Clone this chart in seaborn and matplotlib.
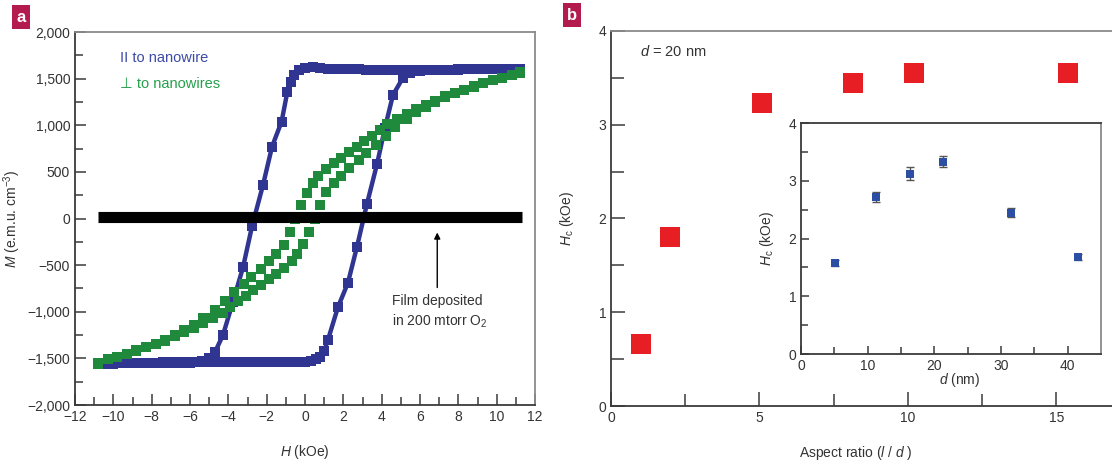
import numpy as np
import pandas as pd
import matplotlib
matplotlib.use("Agg")
import matplotlib.pyplot as plt
from matplotlib.ticker import FixedLocator, FixedFormatter
import seaborn as sns

# ---------------- data : panel a ----------------
# parallel to nanowire (blue), descending branch then ascending branch
blue_H_desc = [11.2, 10.8, 10.4, 10.0, 9.6, 9.2, 8.8, 8.4, 8.0, 7.6, 7.2, 6.8, 6.4, 6.0,
               5.6, 5.2, 4.8, 4.4, 4.0, 3.6, 3.2, 2.8, 2.4, 2.0, 1.6, 1.2, 0.8, 0.4, 0.0,
               -0.3, -0.55, -0.75, -0.92, -1.22, -1.72, -2.19, -2.76, -3.23, -3.76, -4.28,
               -4.69, -5.0, -5.4, -5.8, -6.2, -6.6, -7.0, -7.4, -7.8, -8.2, -8.6, -9.0,
               -9.4, -9.8, -10.2, -10.6, -10.8]
blue_M_desc = [1600, 1600, 1600, 1600, 1600, 1598, 1598, 1598, 1597, 1597, 1596, 1596, 1595, 1595,
               1595, 1594, 1594, 1594, 1595, 1596, 1597, 1598, 1598, 1598, 1600, 1605, 1615, 1622, 1615,
               1590, 1540, 1460, 1360, 1040, 770, 360, -80, -520, -895, -1250,
               -1430, -1500, -1525, -1535, -1538, -1540, -1542, -1544, -1545, -1547, -1548, -1550,
               -1551, -1552, -1553, -1554, -1555]
blue_H_asc = [-10.8, -10.4, -10.0, -9.6, -9.2, -8.8, -8.4, -8.0, -7.6, -7.2, -6.8, -6.4, -6.0,
              -5.6, -5.2, -4.8, -4.4, -4.0, -3.6, -3.2, -2.8, -2.4, -2.0, -1.6, -1.2, -0.8, -0.4,
              0.0, 0.3, 0.55, 0.78, 1.0, 1.2, 1.72, 2.24, 2.71, 3.23, 3.76, 4.17, 4.59, 5.1,
              5.5, 6.0, 6.5, 7.0, 7.5, 8.0, 8.5, 9.0, 9.5, 10.0, 10.5, 11.2]
blue_M_asc = [-1555, -1555, -1555, -1554, -1553, -1552, -1551, -1550, -1549, -1548, -1547, -1546, -1545,
              -1544, -1543, -1542, -1541, -1540, -1540, -1539, -1539, -1538, -1538, -1537, -1537, -1536, -1536,
              -1535, -1525, -1505, -1480, -1420, -1300, -950, -690, -305, 155, 585, 970, 1325, 1505,
              1560, 1580, 1590, 1595, 1597, 1598, 1599, 1600, 1600, 1600, 1600, 1600]

# perpendicular to nanowires (green), descending then ascending branch
green_H_desc = [11.2, 10.8, 10.3, 9.8, 9.3, 8.8, 8.3, 7.8, 7.3, 6.8, 6.3, 5.8, 5.3, 4.8, 4.3,
                3.9, 3.5, 3.1, 2.7, 2.3, 1.9, 1.5, 1.1, 0.7, 0.4, 0.1, -0.2, -0.5, -0.8, -1.1,
                -1.5, -1.9, -2.3, -2.8, -3.2, -3.7, -4.2, -4.7, -5.3, -5.8, -6.3, -6.8, -7.3,
                -7.8, -8.3, -8.8, -9.3, -9.8, -10.3, -10.8]
green_M_desc = [1570, 1540, 1510, 1480, 1450, 1420, 1380, 1350, 1310, 1260, 1220, 1170, 1120, 1070, 1010,
                950, 890, 830, 770, 710, 650, 590, 530, 460, 380, 270, 150, 0, -150, -280,
                -380, -460, -540, -630, -700, -790, -880, -980, -1070, -1140, -1200, -1250, -1300,
                -1345, -1380, -1415, -1450, -1480, -1510, -1550]
green_H_asc = [-10.8, -10.3, -9.8, -9.3, -8.8, -8.3, -7.8, -7.3, -6.8, -6.3, -5.8, -5.3, -4.8, -4.3,
               -3.9, -3.5, -3.1, -2.7, -2.3, -1.9, -1.5, -1.1, -0.7, -0.4, -0.1, 0.2, 0.5, 0.8, 1.1,
               1.5, 1.9, 2.3, 2.8, 3.2, 3.7, 4.2, 4.7, 5.3, 5.8, 6.3, 6.8, 7.3, 7.8, 8.3, 8.8,
               9.3, 9.8, 10.3, 10.8, 11.2]
green_M_asc = [-1555, -1510, -1480, -1450, -1420, -1380, -1350, -1310, -1260, -1220, -1170, -1120, -1070, -1010,
               -950, -890, -830, -770, -710, -650, -590, -530, -460, -380, -270, -150, 0, 150, 280,
               380, 460, 540, 630, 700, 790, 880, 980, 1070, 1140, 1200, 1250, 1300, 1345, 1380, 1415,
               1450, 1480, 1510, 1540, 1565]

# film deposited in 200 mtorr O2 (flat, ~zero magnetisation)
film_H = [-10.8, 11.3]
film_M = [20, 20]
arrow_H = 6.9
arrow_M_from = -740
arrow_M_to = -150

a_xticks = [-12, -10, -8, -6, -4, -2, 0, 2, 4, 6, 8, 10, 12]
a_xticklabels = ['−12', '−10', '−8', '−6', '−4', '−2', '0', '2', '4', '6', '8', '10', '12']
a_yticks = [-2000, -1500, -1000, -500, 0, 500, 1000, 1500, 2000]
a_yticklabels = ['−2,000', '−1,500', '−1,000', '−500', '0', '500', '1,000', '1,500', '2,000']

# ---------------- data : panel b ----------------
aspect_ratio = [1.0, 2.0, 5.1, 8.15, 10.2, 15.4]
hc_aspect = [0.66, 1.8, 3.23, 3.45, 3.55, 3.55]
b_xticks = [0, 5, 10, 15]
b_yticks = [0, 1, 2, 3, 4]

inset_d = [5.1, 11.3, 16.3, 21.3, 31.5, 41.6]
inset_hc = [1.58, 2.72, 3.12, 3.33, 2.45, 1.68]
inset_err = [0.05, 0.08, 0.11, 0.1, 0.07, 0.06]
inset_xticks = [0, 10, 20, 30, 40]
inset_yticks = [0, 1, 2, 3, 4]

# ---------------- style ----------------
sns.set_theme(style="ticks")
FONT = ['Liberation Sans', 'DejaVu Sans']
plt.rcParams['font.family'] = FONT
plt.rcParams['mathtext.fontset'] = 'custom'
plt.rcParams['mathtext.rm'] = 'Liberation Sans'
plt.rcParams['mathtext.it'] = 'Liberation Sans:italic'
plt.rcParams['mathtext.bf'] = 'Liberation Sans:bold'

TXT = '#333333'
SPINE_DARK = '#3a3a3a'
SPINE_LIGHT = '#8a8a8a'
BLUE = '#2f3590'
GREEN = '#1f8a3c'
RED = '#e81e25'
INSET_BLUE = '#2d4fa3'

fig = plt.figure(figsize=(11.12, 4.69), dpi=100)

def style_axes(ax, fs=10):
    for s in ['left', 'bottom']:
        ax.spines[s].set_color(SPINE_DARK)
        ax.spines[s].set_linewidth(1.3)
    for s in ['top', 'right']:
        ax.spines[s].set_color(SPINE_LIGHT)
        ax.spines[s].set_linewidth(1.3)
    ax.tick_params(which='both', direction='in', color=SPINE_DARK, width=1.1,
                   labelsize=fs, labelcolor=TXT, top=False, right=False)
    ax.tick_params(which='major', length=8)
    ax.tick_params(which='minor', length=6)

# ---------------- panel a ----------------
axA = fig.add_axes([75/1112, 1 - 405/469, 460/1112, 373/469])
style_axes(axA)
axA.set_xlim(-12, 12)
axA.set_ylim(-2000, 2000)

dfb = pd.DataFrame({'H': blue_H_desc + blue_H_asc, 'M': blue_M_desc + blue_M_asc})
sns.lineplot(data=dfb, x='H', y='M', sort=False, estimator=None, ax=axA, color=BLUE,
             linewidth=3.2, marker='s', markersize=7, markeredgewidth=0, zorder=3)

dfg = pd.DataFrame({'H': green_H_desc + green_H_asc, 'M': green_M_desc + green_M_asc})
sns.scatterplot(data=dfg, x='H', y='M', ax=axA, color=GREEN, marker='s', s=52,
                linewidth=0, zorder=4)

axA.plot(film_H, film_M, color='black', linewidth=8, solid_capstyle='butt', zorder=5)
axA.annotate('', xy=(arrow_H, arrow_M_to), xytext=(arrow_H, arrow_M_from),
             arrowprops=dict(arrowstyle='-|>', color='black', lw=1.0, mutation_scale=9,
                             shrinkA=0, shrinkB=0), zorder=6)
axA.text(4.55, -1000, 'Film deposited\nin 200 mtorr O$_2$', fontsize=10, color=TXT,
         ha='left', va='center', linespacing=1.35)

axA.xaxis.set_major_locator(FixedLocator(a_xticks))
axA.xaxis.set_major_formatter(FixedFormatter(a_xticklabels))
axA.xaxis.set_minor_locator(FixedLocator([-11, -9, -7, -5, -3, -1, 1, 3, 5, 7, 9, 11]))
axA.yaxis.set_major_locator(FixedLocator(a_yticks))
axA.yaxis.set_major_formatter(FixedFormatter(a_yticklabels))
axA.yaxis.set_minor_locator(FixedLocator([-1750, -1250, -750, -250, 250, 750, 1250, 1750]))
axA.set_xlabel('$H$ (kOe)', fontsize=10, color=TXT)
axA.xaxis.set_label_coords(0.5, -0.102)
axA.set_ylabel('$M$ (e.m.u. cm$^{-3}$)', fontsize=10, color=TXT)
axA.yaxis.set_label_coords(-0.112, 0.5)

axA.text(0.098, 0.93, 'II to nanowire', transform=axA.transAxes, fontsize=10.5,
         color='#3c4aa8', ha='left', va='center')
axA.text(0.098, 0.86, '⊥ to nanowires', transform=axA.transAxes, fontsize=10.5,
         color='#25a04c', ha='left', va='center')

# ---------------- panel b ----------------
axB = fig.add_axes([611/1112, 1 - 406/469, 501/1112, 375/469])
style_axes(axB)
axB.spines['right'].set_visible(False)
axB.tick_params(which='major', length=10)
axB.tick_params(which='minor', length=9)
axB.set_xlim(0, 16.87)
axB.set_ylim(0, 4)
sns.scatterplot(x=aspect_ratio, y=hc_aspect, ax=axB, color=RED, marker='s', s=190,
                linewidth=0, zorder=3)
axB.xaxis.set_major_locator(FixedLocator(b_xticks))
axB.xaxis.set_minor_locator(FixedLocator([2.5, 7.5, 12.5]))
axB.yaxis.set_major_locator(FixedLocator(b_yticks))
axB.yaxis.set_minor_locator(FixedLocator([0.5, 1.5, 2.5, 3.5]))
axB.set_xlabel('Aspect ratio ($l$ / $d$ )', fontsize=10, color=TXT)
axB.xaxis.set_label_coords((856 - 611) / 501, -0.1)
axB.set_ylabel('$H_{\\rm c}$ (kOe)', fontsize=10, color=TXT)
axB.yaxis.set_label_coords(-0.07, 0.5)
axB.text(0.98, 3.78, '$d$ = 20 nm', fontsize=10.5, color=TXT, ha='left', va='center')

# ---------------- inset ----------------
axI = fig.add_axes([801/1112, 1 - 354/469, 300/1112, 231/469])
style_axes(axI, fs=10)
axI.spines['top'].set_color(SPINE_DARK)
axI.tick_params(which='major', length=6)
axI.tick_params(which='minor', length=5)
axI.set_xlim(0, 45)
axI.set_ylim(0, 4)
axI.errorbar(inset_d, inset_hc, yerr=inset_err, fmt='none', ecolor='#555555',
             elinewidth=1.0, capsize=3, capthick=1.0, zorder=2)
sns.scatterplot(x=inset_d, y=inset_hc, ax=axI, color=INSET_BLUE, marker='s', s=30,
                linewidth=0, zorder=3)
axI.xaxis.set_major_locator(FixedLocator(inset_xticks))
axI.xaxis.set_minor_locator(FixedLocator([5, 15, 25, 35]))
axI.yaxis.set_major_locator(FixedLocator(inset_yticks))
axI.yaxis.set_minor_locator(FixedLocator([0.5, 1.5, 2.5, 3.5]))
axI.set_xlabel('')
axI.text((960 - 801) / 300, -0.075, '$d$ (nm)', transform=axI.transAxes, fontsize=10,
         color=TXT, ha='center', va='top')
axI.set_ylabel('$H_{\\rm c}$ (kOe)', fontsize=10, color=TXT)
axI.yaxis.set_label_coords(-0.083, 0.5)

# ---------------- panel labels ----------------
fig.text(21/1112, 1 - 17/469, 'a', fontsize=12, fontweight='bold', color='white',
         ha='center', va='center',
         bbox=dict(boxstyle='square,pad=0.25', facecolor='#b31b4e', edgecolor='none'))
fig.text(572/1112, 1 - 15/469, 'b', fontsize=12, fontweight='bold', color='white',
         ha='center', va='center',
         bbox=dict(boxstyle='square,pad=0.25', facecolor='#b31b4e', edgecolor='none'))

fig.savefig('out.png', dpi=100, facecolor='white')
